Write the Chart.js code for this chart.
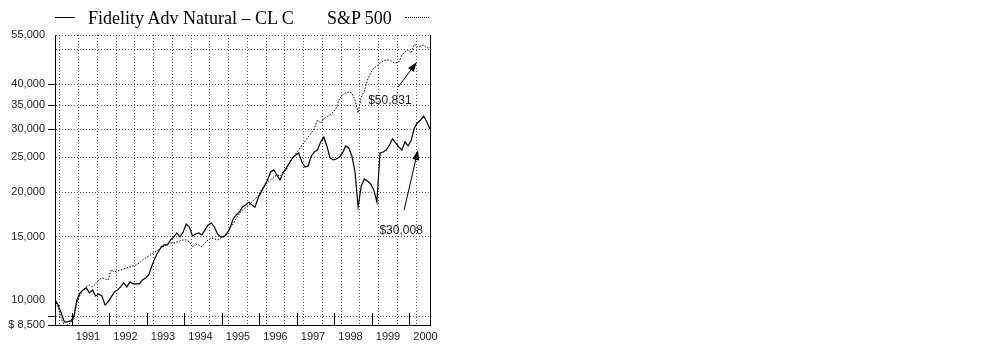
<!DOCTYPE html>
<html>
<head>
<meta charset="utf-8">
<script src="https://cdn.jsdelivr.net/npm/chart.js@4.4.1/dist/chart.umd.min.js"></script>
<style>
  body { margin: 0; background: #fff; }
  #wrap { position: relative; width: 983px; height: 352px; }
  #chart { position: absolute; left: 0; top: 0; }
  .leg { position: absolute; font-family: "Liberation Serif", "Times New Roman", serif; font-size: 18px; line-height: 20px; color: #000; white-space: nowrap; }
  .swatch { position: absolute; height: 0; width: 20px; }
</style>
</head>
<body>
<div id="wrap">
  <canvas id="chart" width="440" height="352"></canvas>
  <div class="swatch" style="left:55px; top:17px; border-top:1px solid #000;"></div>
  <div class="leg" style="left:88px; top:8px;">Fidelity Adv Natural &#8211; CL C</div>
  <div class="leg" style="left:327px; top:8px;">S&amp;P 500</div>
  <div class="swatch" style="left:405px; top:17px; width:24px; border-top:1px dotted #000;"></div>
</div>
<script>
// monthly values, Jul 1990 .. Jun 2000, growth of $10,000
let startYear = 1990.55;
let fundValues = [
  10000, 9673, 9188, 8671, 8671, 8726, 8955, 9989, 10450, 10653,
  10792, 10450, 10653, 10250, 10383, 10250, 9673, 9862, 10184, 10518,
  10653, 10862, 11146, 10862, 11218, 11074, 11074, 11074, 11362, 11510,
  11734, 12434, 13090, 13607, 14050, 14233, 14233, 14699, 14985, 15375,
  14985, 15475, 16293, 15980, 15082, 15278, 15375, 15180, 15676, 16189,
  16400, 15980, 15278, 14985, 14985, 15278, 15880, 16825, 17265, 17600,
  18175, 18413, 18770, 18413, 18175, 19260, 20020, 20810, 21628, 22770,
  23066, 22335, 21628, 22620, 23360, 24130, 24915, 25404, 25735, 24285,
  23515, 23665, 25240, 25900, 26235, 27620, 28525, 26920, 24915, 24599,
  24760, 25080, 25735, 26920, 26575, 25240, 22770, 18175, 20810, 21765,
  21490, 21080, 20280, 18770, 25735, 25900, 26235, 27093, 28160, 27440,
  26750, 26235, 27620, 26920, 27979, 30225, 31215, 31823, 32650, 31415,
  30008
];
let spValues = [
  10000, 9489, 8897, 8450, 8504, 8615, 8840, 9800, 10316, 10653,
  10862, 11002, 10862, 11074, 11362, 11510, 11436, 11362, 12117, 11965,
  12040, 12117, 12195, 12273, 12352, 12434, 12514, 12680, 12923, 13090,
  13260, 13433, 13607, 13782, 13960, 14140, 14326, 14420, 14420, 14510,
  14605, 14699, 14699, 14510, 14050, 14326, 14233, 14050, 14420, 14699,
  14890, 14795, 14699, 14890, 15082, 15375, 15880, 16293, 16930, 17375,
  17830, 18060, 18413, 18770, 19140, 19510, 20280, 20810, 21355, 21628,
  22045, 22335, 22190, 22770, 23066, 24130, 24915, 25570, 26235, 27093,
  27800, 28525, 29270, 30225, 31823, 31215, 32030, 32440, 32864, 33500,
  34370, 36430, 37380, 37860, 38100, 37860, 36196, 33290, 36900, 38350,
  41169, 43070, 44480, 45050, 45930, 46520, 46825, 46825, 46230, 45930,
  46230, 48356, 49300, 49938, 48990, 51900, 50900, 51230, 51571, 50590,
  50831
];

let yearLabels = ["1991", "1992", "1993", "1994", "1995", "1996", "1997", "1998", "1999", "2000"];
let yTickValues = [55000, 50000, 40000, 35000, 30000, 25000, 20000, 15000, 10000, 9000, 8500];
let yTickLabels = ["55,000", "", "40,000", "35,000", "30,000", "25,000", "20,000", "15,000", "10,000", "", "$ 8,500"];
let yGridValues = [55000, 50000, 40000, 35000, 30000, 25000, 20000, 15000, 9000];
let yTickMarks = [40000, 35000, 30000, 9000, 8500];

// end-value callouts: [label, labelX, labelY, arrowFromX, arrowFromY, arrowToX, arrowToY]
let callouts = [
  ["$50,831", 1999.48, 35970, 1999.70, 39350, 2000.20, 46230],
  ["$30,008", 1999.78, 15576, 1999.86, 17830, 2000.23, 26235]
];

const toPoints = vals => vals.map((v, i) => ({ x: startYear + i / 12, y: v }));

const tickFont = { family: "'Liberation Sans', Arial, sans-serif", size: 11 };

const framePlugin = {
  id: 'frame',
  afterDatasetsDraw(chart) {
    const { ctx, chartArea, scales } = chart;
    ctx.save();
    ctx.strokeStyle = '#000';
    ctx.lineWidth = 1;
    // right border
    ctx.beginPath();
    ctx.moveTo(Math.round(chartArea.right) + 0.5, chartArea.top);
    ctx.lineTo(Math.round(chartArea.right) + 0.5, chartArea.bottom);
    ctx.stroke();
    // year marks pointing up from the x axis
    for (let y = 1991; y <= 2000; y++) {
      const px = Math.round(scales.x.getPixelForValue(y)) + 0.5;
      ctx.beginPath();
      ctx.moveTo(px, chartArea.bottom);
      ctx.lineTo(px, chartArea.bottom - 12);
      ctx.stroke();
    }
    // callouts
    ctx.font = "12px 'Liberation Sans', Arial, sans-serif";
    ctx.textAlign = 'center';
    ctx.textBaseline = 'middle';
    callouts.forEach(c => {
      const lx = scales.x.getPixelForValue(c[1]);
      const ly = scales.y.getPixelForValue(c[2]);
      ctx.fillStyle = '#222';
      ctx.fillText(c[0], lx, ly);
      const x1 = scales.x.getPixelForValue(c[3]), y1 = scales.y.getPixelForValue(c[4]);
      const x2 = scales.x.getPixelForValue(c[5]), y2 = scales.y.getPixelForValue(c[6]);
      const ang = Math.atan2(y2 - y1, x2 - x1);
      ctx.beginPath();
      ctx.moveTo(x1, y1);
      ctx.lineTo(x2 - 6 * Math.cos(ang), y2 - 6 * Math.sin(ang));
      ctx.stroke();
      ctx.beginPath();
      ctx.moveTo(x2, y2);
      ctx.lineTo(x2 - 10 * Math.cos(ang) + 3.5 * Math.sin(ang), y2 - 10 * Math.sin(ang) - 3.5 * Math.cos(ang));
      ctx.lineTo(x2 - 10 * Math.cos(ang) - 3.5 * Math.sin(ang), y2 - 10 * Math.sin(ang) + 3.5 * Math.cos(ang));
      ctx.closePath();
      ctx.fillStyle = '#000';
      ctx.fill();
    });
    ctx.restore();
  }
};

new Chart(document.getElementById('chart'), {
  type: 'line',
  data: {
    datasets: [{
      label: 'Fidelity Adv Natural - CL C',
      data: toPoints(fundValues),
      borderColor: '#000',
      borderWidth: 1.2
    }, {
      label: 'S&P 500',
      data: toPoints(spValues),
      borderColor: '#000',
      borderWidth: 1,
      borderDash: [1.5, 1.5]
    }]
  },
  options: {
    responsive: false,
    animation: false,
    layout: { padding: { top: 35, right: 10, left: 0, bottom: 0 } },
    elements: { point: { radius: 0 }, line: { tension: 0 } },
    plugins: { legend: { display: false }, tooltip: { enabled: false } },
    scales: {
      x: {
        type: 'linear',
        min: 1990.55,
        max: 2000.55,
        weight: 0,
        afterBuildTicks: s => {
          const t = [];
          for (let k = 0; k < 20; k++) t.push({ value: 1990.683 + k * 0.5 });
          s.ticks = t;
        },
        afterFit: s => { s.height = 0; s.paddingLeft = 0; s.paddingRight = 0; },
        ticks: { display: false },
        grid: { color: '#555', lineWidth: 1, drawTicks: false },
        border: { display: true, color: '#000', width: 1, dash: [1, 2] }
      },
      xLabels: {
        type: 'linear',
        position: 'bottom',
        min: 1990.55,
        max: 2000.55,
        weight: 1,
        afterBuildTicks: s => { s.ticks = yearLabels.map((l, i) => ({ value: 1991.43 + i })); },
        afterFit: s => { s.height = 27; s.paddingLeft = 0; s.paddingRight = 0; },
        grid: { display: false, drawTicks: false },
        border: { display: false },
        ticks: {
          color: '#222',
          font: tickFont,
          padding: 5,
          maxRotation: 0,
          autoSkip: false,
          callback: (v, i) => yearLabels[i]
        }
      },
      y: {
        type: 'logarithmic',
        min: 8500,
        max: 55000,
        afterBuildTicks: s => { s.ticks = yTickValues.map(v => ({ value: v })); },
        afterFit: s => { s.width = 55; s.paddingTop = 0; s.paddingBottom = 0; },
        ticks: {
          color: '#222',
          font: tickFont,
          padding: 3,
          autoSkip: false,
          callback: (v, i) => yTickLabels[i]
        },
        grid: {
          color: c => (c.tick && yGridValues.includes(c.tick.value)) ? '#555' : 'rgba(0,0,0,0)',
          tickColor: c => (c.tick && yTickMarks.includes(c.tick.value)) ? '#000' : 'rgba(0,0,0,0)',
          tickLength: 7,
          lineWidth: 1
        },
        border: { display: true, color: '#000', width: 1, dash: [1, 2] }
      }
    }
  },
  plugins: [framePlugin]
});
</script>
</body>
</html>
